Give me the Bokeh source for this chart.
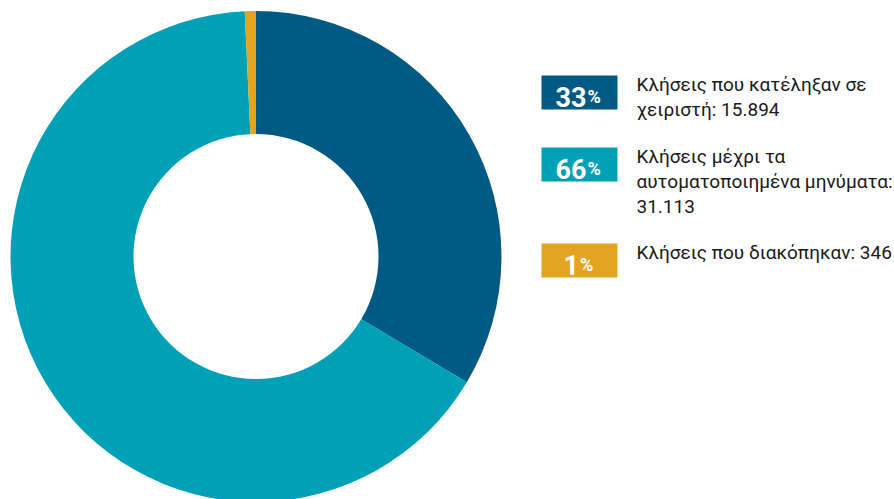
import math
from bokeh.plotting import figure
from bokeh.models import Range1d
from bokeh.core.properties import value
from bokeh.embed import file_html
from bokeh.resources import INLINE

# data
labels = ["Κλήσεις που κατέληξαν σε χειριστή", "Κλήσεις μέχρι τα αυτοματοποιημένα μηνύματα", "Κλήσεις που διακόπηκαν"]
counts = [15894, 31113, 346]
count_labels = ["15.894", "31.113", "346"]
pct_labels = ["33", "66", "1"]
legend_lines = [
    ["Κλήσεις που κατέληξαν σε", "χειριστή: 15.894"],
    ["Κλήσεις μέχρι τα", "αυτοματοποιημένα μηνύματα:", "31.113"],
    ["Κλήσεις που διακόπηκαν: 346"],
]
colors = ["#015a84", "#00a0b6", "#e3a520"]

W, H = 894, 499
p = figure(width=W, height=H, output_backend="svg", toolbar_location=None,
           x_range=Range1d(0, W), y_range=Range1d(0, H), min_border=0)
p.axis.visible = False
p.grid.visible = False
p.outline_line_color = None
p.background_fill_color = "white"

def X(px):
    return px

def Y(py):
    return H - py

TXT_SHIFT = 7  # compensation for svg baseline placement

# donut
cx, cy = X(255.5), Y(256)
total = sum(counts)
starts, ends = [], []
a = math.pi / 2
for c in counts:
    starts.append(a)
    a -= c / total * 2 * math.pi
    ends.append(a)
p.annular_wedge(x=cx, y=cy, inner_radius=122.5, outer_radius=245.5,
                start_angle=ends, end_angle=starts, color=colors,
                line_color=None)

# legend
box_tops = [75, 147, 243]
box_left, box_right = 541, 617
box_h = 34
num_fs, pct_fs = 27, 18
text_fs = 19
for i in range(3):
    t = box_tops[i]
    p.quad(left=X(box_left), right=X(box_right), top=Y(t), bottom=Y(t + box_h),
           color=colors[i], line_color=None)
    nd = len(pct_labels[i])
    wn = nd * 15
    wp = 16
    left = (box_left + box_right) / 2 - (wn + wp) / 2
    base = t + 28 - TXT_SHIFT
    p.text(x=[X(left + wn)], y=[Y(base)], text=[pct_labels[i]],
           text_font=value("Roboto"), text_font_style="bold",
           text_font_size=f"{num_fs}px", text_color="white",
           text_align="right", text_baseline="alphabetic")
    p.text(x=[X(left + wn + 1)], y=[Y(base)], text=["%"],
           text_font=value("Roboto"), text_font_style="bold",
           text_font_size=f"{pct_fs}px", text_color="white",
           text_align="left", text_baseline="alphabetic")
    for j, line in enumerate(legend_lines[i]):
        p.text(x=[X(636)], y=[Y(t + 16 + 25 * j - TXT_SHIFT)], text=[line],
               text_font=value("Roboto"), text_font_size=f"{text_fs}px",
               text_color="#1a1a1a", text_align="left",
               text_baseline="alphabetic")

open("out.html", "w").write(file_html(p, INLINE))
